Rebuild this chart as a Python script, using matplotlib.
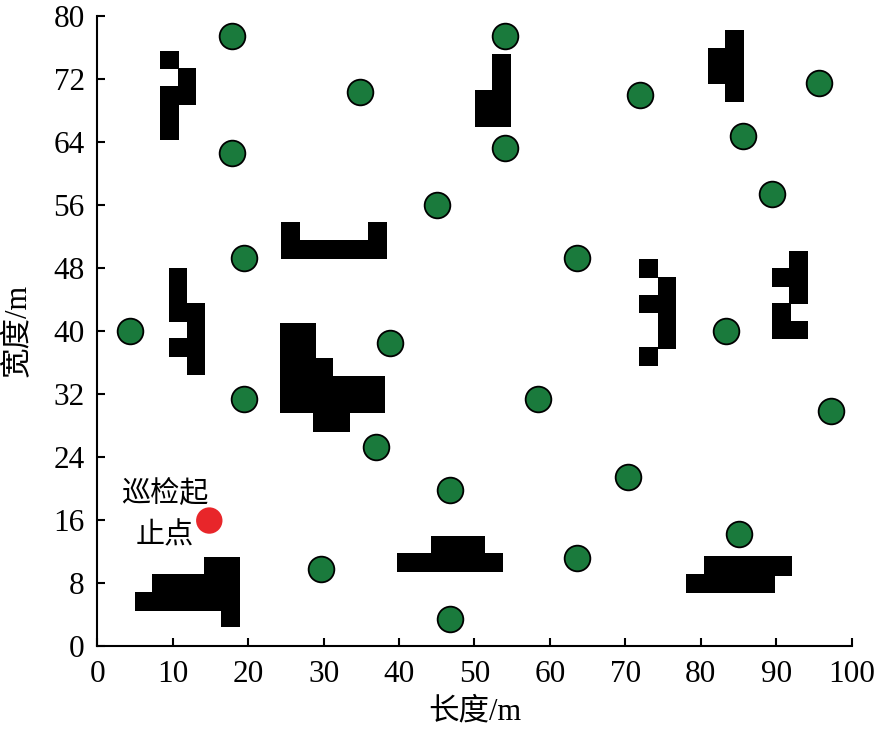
import matplotlib
matplotlib.use("Agg")
import matplotlib.pyplot as plt

# ---- data ----
# inspection targets (green)
target_x = [17.9, 34.8, 17.9, 19.4, 4.3, 38.8, 19.5, 37.0, 29.7, 54.0, 54.0, 45.1, 71.9,
            85.6, 95.7, 89.5, 63.6, 83.4, 58.4, 97.3, 46.7, 70.3, 63.6, 85.0, 46.7]
target_y = [77.4, 70.4, 62.6, 49.2, 40.0, 38.4, 31.4, 25.3, 9.8, 77.4, 63.2, 56.0, 69.9,
            64.8, 71.5, 57.4, 49.2, 40.0, 31.4, 29.8, 19.8, 21.4, 11.2, 14.2, 3.35]
# start / end point (red)
start_x = [14.85]
start_y = [15.9]
start_label = ["巡检起", "止点"]

# obstacles as rectangles: x0, x1, y0, y1
obs_x0 = [8.26, 10.7, 8.26,
          24.4, 24.4, 35.9,
          9.46, 11.9, 9.46,
          24.27, 29.0, 31.2, 28.6,
          4.95, 7.25, 14.19, 16.4,
          52.35, 50.04,
          83.2, 80.9,
          71.84, 74.3, 71.84, 71.84,
          91.68, 89.39, 89.39, 91.85,
          39.75, 44.3,
          80.4, 78.08]
obs_x1 = [10.78, 13.13, 10.78,
          38.4, 26.9, 38.4,
          11.9, 14.23, 11.9,
          29.05, 31.26, 38.2, 33.46,
          18.97, 18.97, 18.97, 18.97,
          54.8, 52.4,
          85.76, 83.25,
          74.36, 76.7, 74.36, 74.36,
          94.2, 91.7, 91.9, 94.2,
          53.75, 51.46,
          92.04, 89.83]
obs_y0 = [73.3, 68.7, 64.3,
          49.1, 49.1, 49.1,
          41.17, 34.4, 36.65,
          29.53, 29.53, 29.53, 27.19,
          4.45, 6.75, 9.0, 2.41,
          65.95, 65.95,
          69.05, 71.3,
          46.76, 37.74, 42.24, 35.54,
          43.38, 45.62, 38.93, 38.93,
          9.33, 11.7,
          8.85, 6.66]
obs_y1 = [75.6, 73.4, 71.1,
          51.5, 53.8, 53.8,
          47.95, 43.5, 39.06,
          40.97, 36.52, 34.27, 29.6,
          6.85, 9.1, 11.31, 4.5,
          75.15, 70.6,
          78.2, 75.98,
          49.14, 46.89, 44.56, 37.92,
          50.19, 47.95, 43.51, 41.3,
          11.8, 13.98,
          11.36, 9.1]

x_ticks = [0, 10, 20, 30, 40, 50, 60, 70, 80, 90, 100]
y_ticks = [0, 8, 16, 24, 32, 40, 48, 56, 64, 72, 80]
x_label = "长度/m"
y_label = "宽度/m"

# ---- plot ----
plt.rcParams['font.family'] = ['Liberation Serif', 'Noto Sans CJK SC']
fig = plt.figure(figsize=(8.81, 7.36), dpi=100)
ax = fig.add_axes([0.1104, 0.1227, 0.8563, 0.8556])

widths = [b - a for a, b in zip(obs_x0, obs_x1)]
heights = [b - a for a, b in zip(obs_y0, obs_y1)]
ax.bar(obs_x0, heights, width=widths, bottom=obs_y0, align='edge',
       color='black', edgecolor='none', zorder=2)

ax.scatter(target_x, target_y, s=18.5 ** 2, facecolor='#1a7a3c', edgecolor='black',
           linewidth=1.3, zorder=3)
ax.scatter(start_x, start_y, s=19 ** 2, facecolor='#e8262a', edgecolor='none', zorder=3)

ax.text(9.0, 19.3, start_label[0], ha='center', va='center', fontsize=21,
        family=['Noto Sans CJK SC'], zorder=4)
ax.text(8.95, 14.0, start_label[1], ha='center', va='center', fontsize=21,
        family=['Noto Sans CJK SC'], zorder=4)

ax.set_xlim(0, 100)
ax.set_ylim(0, 80)
ax.set_xticks(x_ticks)
ax.set_yticks(y_ticks)
ax.tick_params(direction='in', length=6, width=1.5, labelsize=22.5)
ax.tick_params(axis='x', pad=10)
ax.tick_params(axis='y', pad=9)
for s in ['top', 'right']:
    ax.spines[s].set_visible(False)
for s in ['left', 'bottom']:
    ax.spines[s].set_linewidth(1.5)

ax.set_xlabel(x_label, fontsize=22, va='top')
ax.set_ylabel(y_label, fontsize=22)
ax.xaxis.set_label_coords(0.5, -0.082)
ax.yaxis.set_label_coords(-0.086, 0.5)

fig.savefig("out.png", dpi=100)
